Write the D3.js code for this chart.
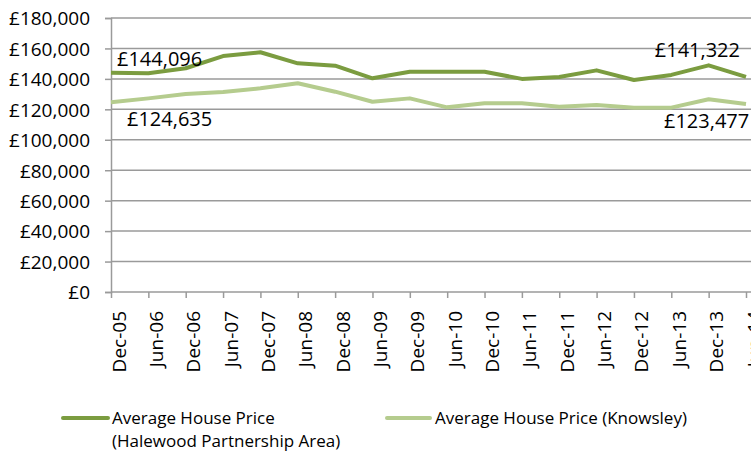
<!DOCTYPE html>
<html>
<head>
<meta charset="utf-8">
<script src="https://cdn.jsdelivr.net/npm/d3@7"></script>
<style>
  body { margin: 0; background: #fff; }
  svg { display: block; font-family: "Open Sans", sans-serif; }
</style>
</head>
<body>
<div id="chart"></div>
<script>
const WIDTH = 751;
const HEIGHT = 453;
const FONT = '"Open Sans", sans-serif';

const periods = ['Dec-05', 'Jun-06', 'Dec-06', 'Jun-07', 'Dec-07', 'Jun-08', 'Dec-08', 'Jun-09',
  'Dec-09', 'Jun-10', 'Dec-10', 'Jun-11', 'Dec-11', 'Jun-12', 'Dec-12', 'Jun-13', 'Dec-13', 'Jun-14'];

const halewood = [144096, 143700, 147000, 155000, 157500, 150200, 148700, 140400,
  144700, 144700, 144700, 140000, 141200, 145600, 139300, 142600, 148900, 141322];

const knowsley = [124635, 127200, 130100, 131400, 133800, 137100, 131600, 125000,
  127200, 121300, 124000, 124000, 121700, 122800, 121100, 121100, 126600, 123477];

const yTicks = [0, 20000, 40000, 60000, 80000, 100000, 120000, 140000, 160000, 180000];

const legendLines = [['Average House Price', '(Halewood Partnership Area)'], ['Average House Price (Knowsley)']];

const svg = d3.select('#chart').append('svg')
  .attr('width', WIDTH)
  .attr('height', HEIGHT);

const xScale = d3.scalePoint()
  .domain(periods)
  .range([111, 746]);

const yScale = d3.scaleLinear()
  .domain([0, 180000])
  .range([292, 18]);

const fmt = v => '£' + d3.format(',')(v);

// gridlines
svg.append('g')
  .selectAll('line')
  .data(yTicks.filter(d => d > 0))
  .enter()
  .append('line')
  .attr('x1', 111)
  .attr('x2', 751)
  .attr('y1', d => yScale(d))
  .attr('y2', d => yScale(d))
  .attr('stroke', '#9a9a9a')
  .attr('stroke-width', 1.5);

// y axis
const yAxis = d3.axisLeft(yScale).tickValues(yTicks).tickFormat(fmt).tickSize(6).tickPadding(15);
const gy = svg.append('g')
  .attr('transform', 'translate(111, 0)')
  .call(yAxis);
gy.select('.domain').attr('stroke', '#9a9a9a').attr('stroke-width', 1.5);
gy.selectAll('.tick line').attr('stroke', '#9a9a9a').attr('stroke-width', 1.5);
gy.selectAll('.tick text')
  .attr('fill', '#000')
  .attr('dy', '0.36em')
  .style('font-size', '19px')
  .style('font-family', FONT);

// x axis
const xAxis = d3.axisBottom(xScale).tickSize(6).tickSizeOuter(0);
const gx = svg.append('g')
  .attr('transform', 'translate(0, 292)')
  .call(xAxis);
gx.select('.domain').attr('stroke', '#9a9a9a').attr('stroke-width', 1.5).attr('d', 'M111,0H751');
gx.selectAll('.tick line').attr('stroke', '#9a9a9a').attr('stroke-width', 1.5);
gx.selectAll('.tick text')
  .attr('fill', '#000')
  .style('font-size', '19px')
  .style('font-family', FONT)
  .attr('text-anchor', 'end')
  .attr('transform', 'translate(0, 19) rotate(-90)')
  .attr('x', 0)
  .attr('y', 0)
  .attr('dy', '14px');

// lines
const line = d3.line()
  .x((d, i) => xScale(periods[i]))
  .y(d => yScale(d));

svg.append('path')
  .datum(knowsley)
  .attr('fill', 'none')
  .attr('stroke', '#b5cc8e')
  .attr('stroke-width', 4)
  .attr('stroke-linejoin', 'round')
  .attr('d', line);

svg.append('path')
  .datum(halewood)
  .attr('fill', 'none')
  .attr('stroke', '#7b9c40')
  .attr('stroke-width', 4)
  .attr('stroke-linejoin', 'round')
  .attr('d', line);

// data labels for first and last points
const labels = [
  { v: halewood[0], x: xScale(periods[0]) + 6, y: yScale(halewood[0]) - 7, anchor: 'start' },
  { v: knowsley[0], x: xScale(periods[0]) + 16, y: yScale(knowsley[0]) + 24, anchor: 'start' },
  { v: halewood[17], x: xScale(periods[17]) - 6, y: yScale(halewood[17]) - 20, anchor: 'end' },
  { v: knowsley[17], x: xScale(periods[17]) - 82, y: yScale(knowsley[17]) + 24, anchor: 'start' }
];
svg.append('g')
  .selectAll('text')
  .data(labels)
  .enter()
  .append('text')
  .attr('x', d => d.x)
  .attr('y', d => d.y)
  .attr('text-anchor', d => d.anchor)
  .style('font-size', '20px')
  .text(d => fmt(d.v));

// legend
const legend = svg.append('g');
legend.append('line')
  .attr('x1', 63).attr('x2', 108).attr('y1', 418).attr('y2', 418)
  .attr('stroke', '#7b9c40').attr('stroke-width', 4).attr('stroke-linecap', 'round');
legend.append('text')
  .attr('x', 112).attr('y', 424)
  .style('font-size', '17px')
  .text(legendLines[0][0]);
legend.append('text')
  .attr('x', 112).attr('y', 447)
  .style('font-size', '17px')
  .text(legendLines[0][1]);
legend.append('line')
  .attr('x1', 387).attr('x2', 430).attr('y1', 418).attr('y2', 418)
  .attr('stroke', '#b5cc8e').attr('stroke-width', 4).attr('stroke-linecap', 'round');
legend.append('text')
  .attr('x', 435).attr('y', 424)
  .style('font-size', '17px')
  .text(legendLines[1][0]);
</script>
</body>
</html>
